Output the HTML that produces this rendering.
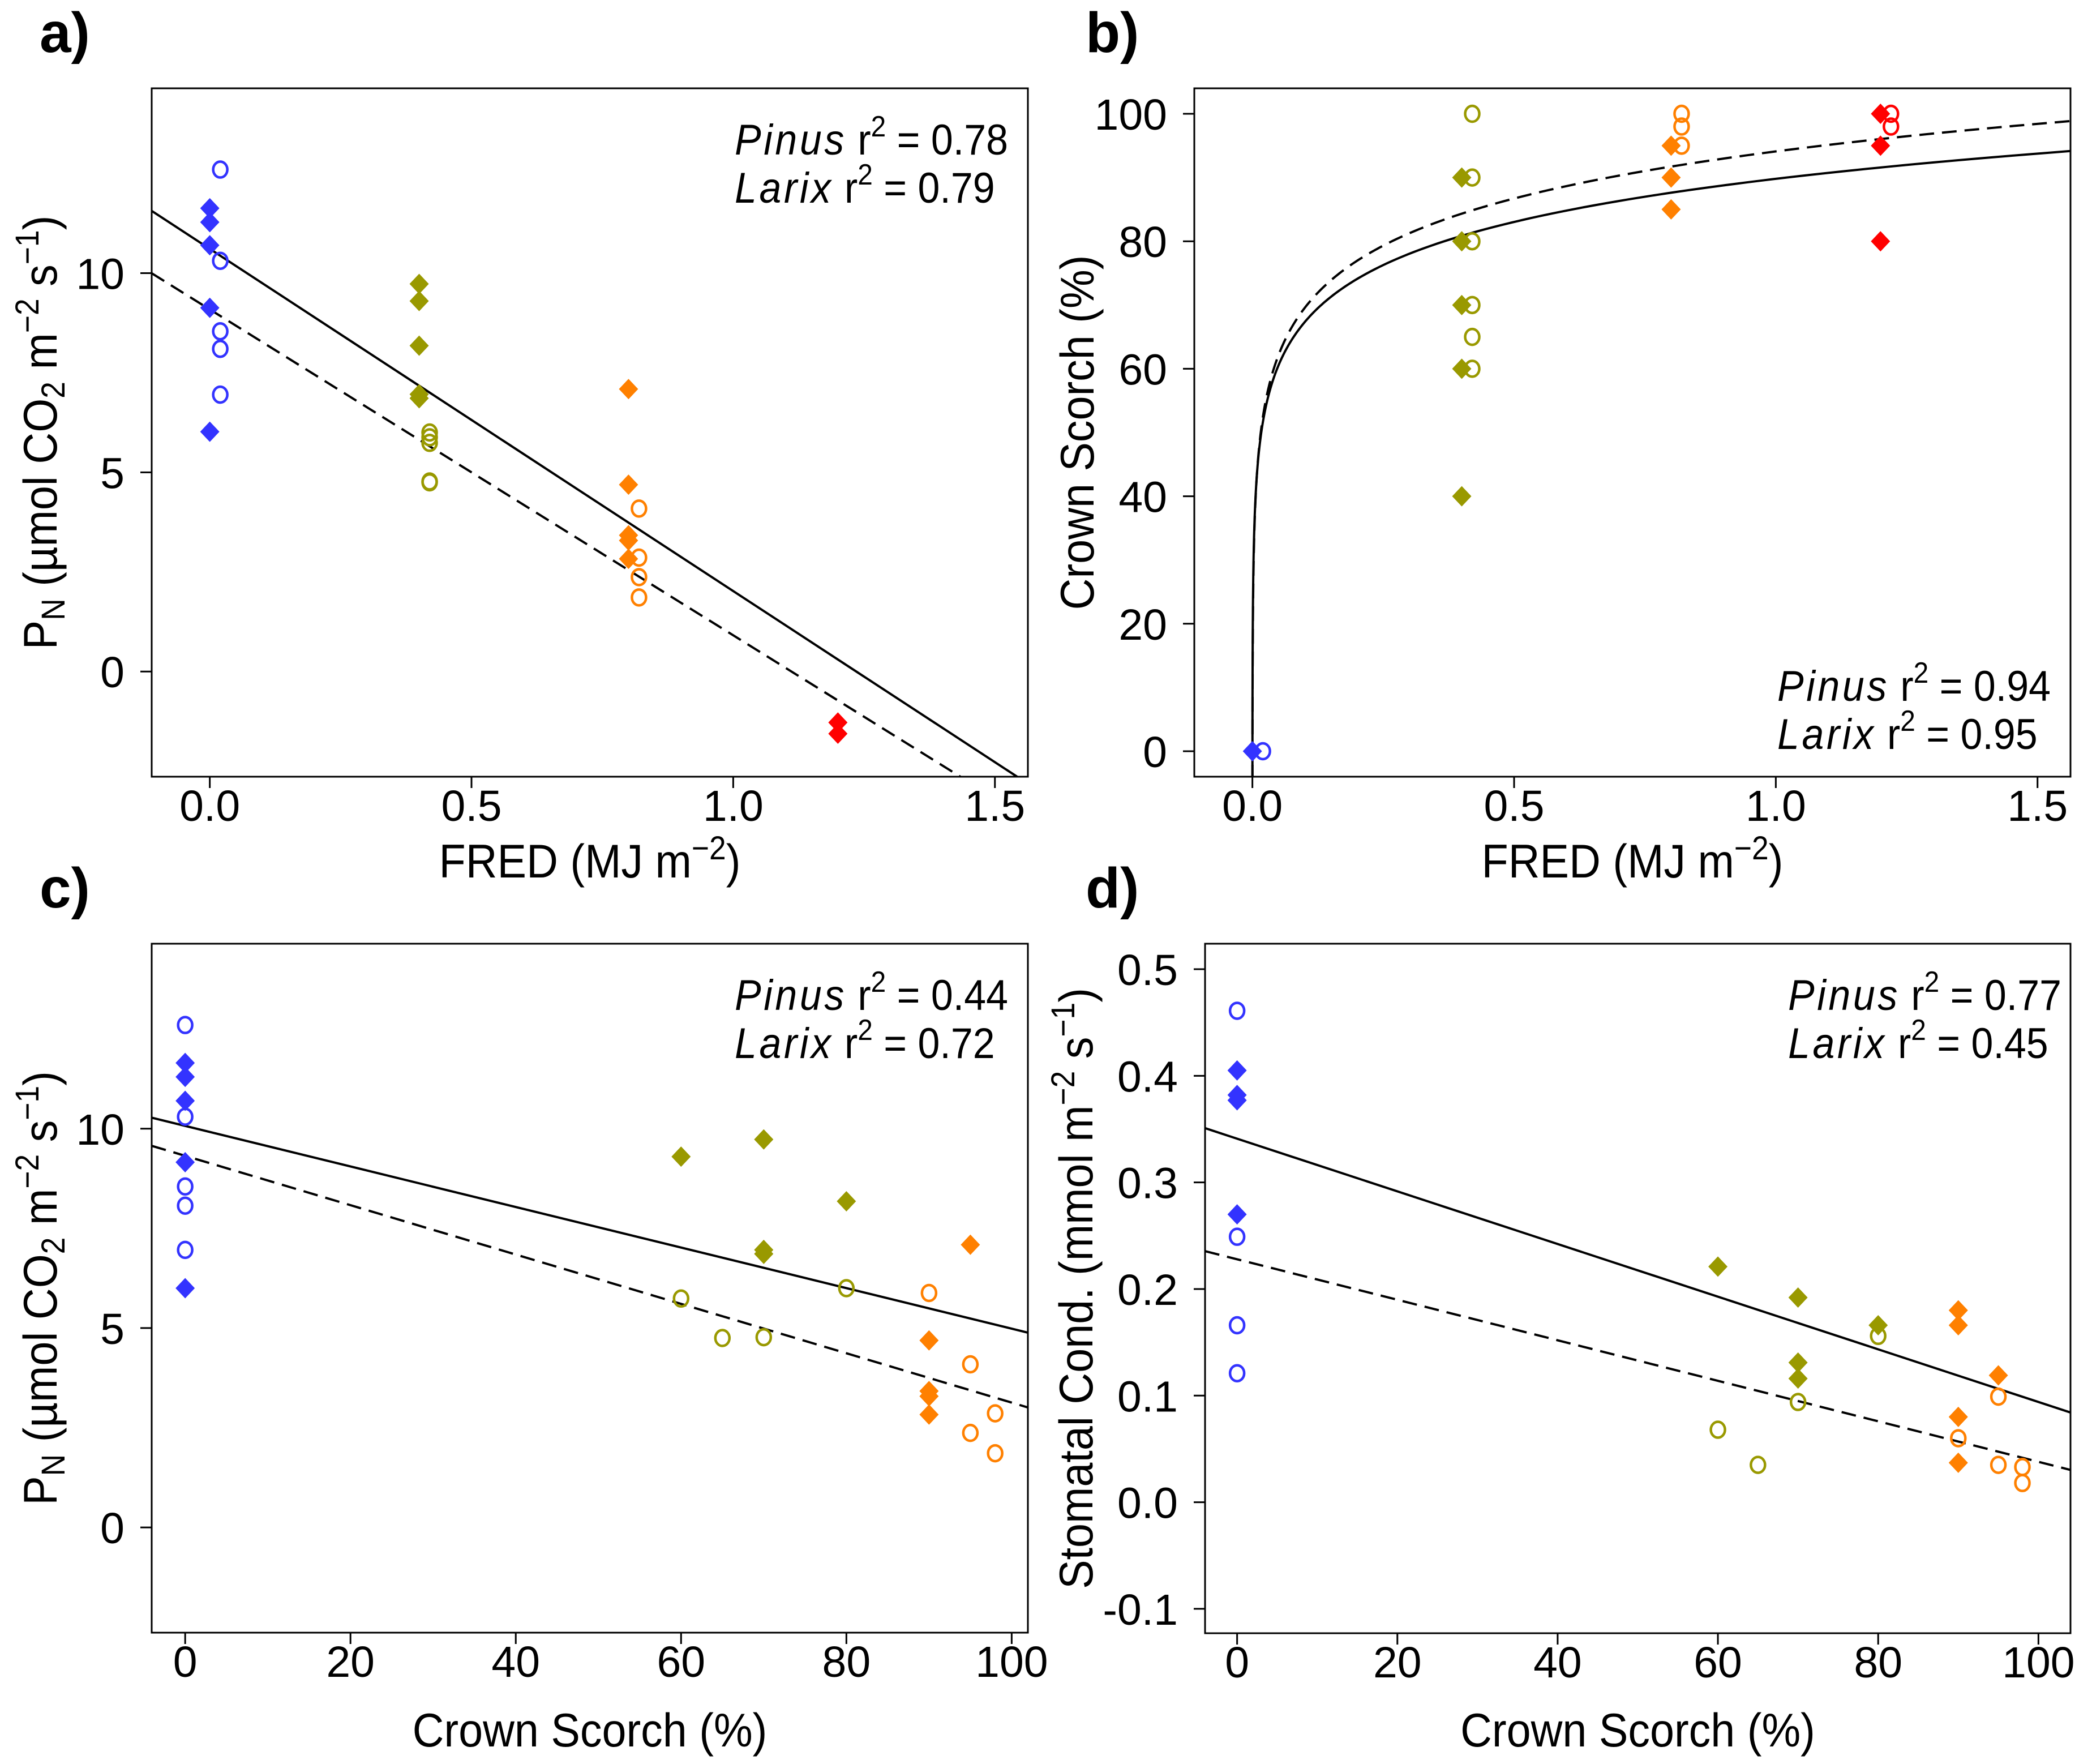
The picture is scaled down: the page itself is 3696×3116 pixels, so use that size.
<!DOCTYPE html>
<html><head><meta charset="utf-8">
<style>
html,body{margin:0;padding:0;background:#fff;}
svg{display:block;font-family:"Liberation Sans",Arial,sans-serif;}
</style></head>
<body>
<svg id="fig" width="3696" height="3116" viewBox="0 0 3696 3116" xmlns="http://www.w3.org/2000/svg">
<rect width="3696" height="3116" fill="#fff"/>
</svg>
<script>
// ---------- DATA ----------
const aPinusX = [0,0,0,0,0, 0.4,0.4,0.4,0.4,0.4, 0.8,0.8,0.8,0.8,0.8, 1.2,1.2];
const aPinusY = [11.63,11.28,10.7,9.13,6.02, 9.73,9.3,8.18,6.96,6.86, 7.09,4.69,3.42,3.29,2.83, -1.28,-1.56];
const aLarixX = [0.02,0.02,0.02,0.02,0.02, 0.42,0.42,0.42,0.42,0.42, 0.82,0.82,0.82,0.82];
const aLarixY = [12.6,10.31,8.54,8.1,6.95, 6.0,5.88,5.74,4.77,4.75, 4.09,2.86,2.37,1.86];
const aPinusFit = [10.61,-8.59];
const aLarixFit = [9.09,-8.18];
const aXTicks = [0,0.5,1.0,1.5];
const aXLabels = ["0.0","0.5","1.0","1.5"];
const aYTicks = [0,5,10];
const aYLabels = ["0","5","10"];
const bPinusX = [0, 0.4,0.4,0.4,0.4,0.4, 0.8,0.8,0.8, 1.2,1.2,1.2];
const bPinusY = [0, 90,80,70,60,40, 95,90,85, 100,95,80];
const bLarixX = [0.02, 0.42,0.42,0.42,0.42,0.42,0.42, 0.82,0.82,0.82, 1.22,1.22];
const bLarixY = [0, 100,90,80,70,65,60, 100,98,95, 100,98];
const bPinusFit = [89.8,9.76];
const bLarixFit = [94.1,10.66];
const bXTicks = [0,0.5,1.0,1.5];
const bXLabels = ["0.0","0.5","1.0","1.5"];
const bYTicks = [0,20,40,60,80,100];
const bYLabels = ["0","20","40","60","80","100"];
const cPinusX = [0,0,0,0,0, 60,70,70,70,80, 95,90,90,90,90];
const cPinusY = [11.65,11.3,10.7,9.16,6.0, 9.3,9.73,6.96,6.86,8.18, 7.09,4.69,3.42,3.29,2.83];
const cLarixX = [0,0,0,0,0, 60,65,70,80,90, 95,98,95,98];
const cLarixY = [12.6,10.3,8.55,8.07,6.96, 5.74,4.75,4.77,6.0,5.88, 4.09,2.86,2.37,1.86];
const cPinusFit = [10.07,-0.05085];
const cLarixFit = [9.32,-0.0619];
const cXTicks = [0,20,40,60,80,100];
const cXLabels = ["0","20","40","60","80","100"];
const cYTicks = [0,5,10];
const cYLabels = ["0","5","10"];
const dPinusX = [0,0,0,0, 60,70,70,70,80, 90,90,90,90,95];
const dPinusY = [0.405,0.382,0.377,0.27, 0.221,0.192,0.131,0.116,0.166, 0.18,0.166,0.08,0.037,0.119];
const dLarixX = [0,0,0,0, 60,65,70,80,90, 95,95,98,98];
const dLarixY = [0.461,0.249,0.166,0.121, 0.068,0.035,0.094,0.156,0.06, 0.099,0.035,0.033,0.018];
const dPinusFit = [0.341,-0.00247];
const dLarixFit = [0.2279,-0.0019];
const dXTicks = [0,20,40,60,80,100];
const dXLabels = ["0","20","40","60","80","100"];
const dYTicks = [-0.1,0,0.1,0.2,0.3,0.4,0.5];
const dYLabels = ["-0.1","0.0","0.1","0.2","0.3","0.4","0.5"];

// ---------- DRAWING ----------
const NS = "http://www.w3.org/2000/svg";
const svg = document.getElementById('fig');
const BLUE="#3333ff", OLIVE="#999900", ORANGE="#ff8000", RED="#ff0000";
const SQ = 0.92;

function mk(tag, attrs, parent){
  const e = document.createElementNS(NS, tag);
  for (const k in attrs) e.setAttribute(k, attrs[k]);
  (parent||svg).appendChild(e);
  return e;
}
function colorFor(x, isFred){
  if (isFred){ if (x<0.2) return BLUE; if (x<0.6) return OLIVE; if (x<1.0) return ORANGE; return RED; }
  if (x<30) return BLUE; if (x<85) return OLIVE; return ORANGE;
}

function panel(cfg){
  const g = mk('g', {});
  
  
  const sx = v => cfg.L + (v - cfg.x0) / (cfg.x1 - cfg.x0) * (cfg.R - cfg.L);
  const sy = v => cfg.B - (v - cfg.y0) / (cfg.y1 - cfg.y0) * (cfg.B - cfg.T);
  const clipId = cfg.name + '-clip';
  const cp = mk('clipPath', {id: clipId}, g);
  mk('rect', {x: cfg.L, y: cfg.T, width: cfg.R - cfg.L, height: cfg.B - cfg.T}, cp);

  const lines = mk('g', {'clip-path': 'url(#' + clipId + ')'}, g);
  [[cfg.pFit, null, 'pinus-fit-line'], [cfg.lFit, '26 14', 'larix-fit-line']].forEach(([f, dash, nm]) => {
    let pts = [];
    if (cfg.log){
      const xs = Math.exp((cfg.y0 - f[0]) / f[1]);
      const N = 400;
      for (let i = 0; i <= N; i++){
        const t = i / N;
        const x = xs * Math.pow(cfg.x1 / xs, t);
        pts.push(sx(x).toFixed(2) + ',' + sy(f[0] + f[1] * Math.log(x)).toFixed(2));
      }
      pts.unshift(sx(xs).toFixed(2) + ',' + (cfg.B + 5));
    } else {
      [cfg.x0, cfg.x1].forEach(x => pts.push(sx(x).toFixed(2) + ',' + sy(f[0] + f[1] * x).toFixed(2)));
    }
    const pl = mk('polyline', {points: pts.join(' '), fill: 'none', stroke: '#000', 'stroke-width': 4}, lines);
    if (dash) pl.setAttribute('stroke-dasharray', dash);
    
    
  });

  cfg.lx.forEach((x, i) => {
    const c = mk('ellipse', {cx: sx(x), cy: sy(cfg.ly[i]), rx: 12.5, ry: 14, fill: 'none', stroke: colorFor(x, cfg.fred), 'stroke-width': 4.5}, g);
    
    
  });
  cfg.px.forEach((x, i) => {
    const cx = sx(x), cy = sy(cfg.py[i]);
    const d = mk('polygon', {points: `${cx},${cy-18} ${cx+17},${cy} ${cx},${cy+18} ${cx-17},${cy}`, fill: colorFor(x, cfg.fred)}, g);
    
    
  });

  const fr = mk('rect', {x: cfg.L, y: cfg.T, width: cfg.R - cfg.L, height: cfg.B - cfg.T, fill: 'none', stroke: '#000', 'stroke-width': 3}, g);
  
  

  cfg.xt.forEach((v, i) => {
    const x = sx(v);
    mk('line', {x1: x, y1: cfg.B, x2: x, y2: cfg.B + 20, stroke: '#000', 'stroke-width': 3}, g);
    const t = mk('text', {x: x, y: cfg.B + 78, 'font-size': 77, 'text-anchor': 'middle'}, g);
    t.textContent = cfg.xl[i];
    
    
  });
  cfg.yt.forEach((v, i) => {
    const y = sy(v);
    mk('line', {x1: cfg.L - 20, y1: y, x2: cfg.L, y2: y, stroke: '#000', 'stroke-width': 3}, g);
    const t = mk('text', {x: cfg.L - 48, y: y + 28, 'font-size': 77, 'text-anchor': 'end'}, g);
    t.textContent = cfg.yl[i];
    
    
  });

  const xt = mk('text', {x: 0, y: 0, 'font-size': 84, 'text-anchor': 'middle', transform: `translate(${(cfg.L + cfg.R) / 2},${cfg.xTitleY}) scale(${SQ},1)`}, g);
  xt.innerHTML = cfg.xTitle;
  
  
  const yc = (cfg.T + cfg.B) / 2;
  const yt = mk('text', {x: 0, y: 0, 'font-size': 84, 'text-anchor': 'middle', transform: `translate(${cfg.yTitleX},${yc}) rotate(-90) scale(${SQ},1)`}, g);
  yt.innerHTML = cfg.yTitle;
  
  

  const pl = mk('text', {x: cfg.labX, y: cfg.T - 64, 'font-size': 100, 'font-weight': 'bold'}, g);
  pl.textContent = cfg.label;
  
  

  const ax = cfg.L + 1030;
  const ay1 = cfg.annBottom ? cfg.B - 134 : cfg.T + 117;
  const t1 = mk('text', {x: 0, y: 0, 'font-size': 76, transform: `translate(${ax},${ay1}) scale(${SQ},1)`}, g);
  t1.innerHTML = `<tspan font-style="italic" letter-spacing="5">Pinus</tspan> r<tspan font-size="52" dy="-32">2</tspan><tspan dy="32"> = ${cfg.r2[0]}</tspan>`;
  
  
  const t2 = mk('text', {x: 0, y: 0, 'font-size': 76, transform: `translate(${ax},${ay1 + 85}) scale(${SQ},1)`}, g);
  t2.innerHTML = `<tspan font-style="italic" letter-spacing="5">Larix</tspan> r<tspan font-size="52" dy="-32">2</tspan><tspan dy="32"> = ${cfg.r2[1]}</tspan>`;
  
  
}

const pnTitle = 'P<tspan font-size="58" dy="14">N</tspan><tspan dy="-14"> (µmol CO</tspan><tspan font-size="58" dy="14">2</tspan><tspan dy="-14"> m</tspan><tspan font-size="58" dy="-32">−2</tspan><tspan dy="32"> s</tspan><tspan font-size="58" dy="-32">−1</tspan><tspan dy="32">)</tspan>';
const fredTitle = 'FRED (MJ m<tspan font-size="58" dy="-32">−2</tspan><tspan dy="32">)</tspan>';

panel({name:'panel-a', label:'a)', labX:70, L:268, R:1816, T:156, B:1372, x0:-0.111, x1:1.563, y0:-2.64, y1:14.64, fred:true,
  px:aPinusX, py:aPinusY, lx:aLarixX, ly:aLarixY, pFit:aPinusFit, lFit:aLarixFit,
  xt:aXTicks, xl:aXLabels, yt:aYTicks, yl:aYLabels, xTitle:fredTitle, xTitleY:1550, yTitle:pnTitle, yTitleX:100, r2:['0.78','0.79']});
panel({name:'panel-b', label:'b)', labX:1918, L:2110, R:3658, T:156, B:1372, x0:-0.111, x1:1.563, y0:-4, y1:104, fred:true, log:true,
  px:bPinusX, py:bPinusY, lx:bLarixX, ly:bLarixY, pFit:bPinusFit, lFit:bLarixFit, annBottom:true,
  xt:bXTicks, xl:bXLabels, yt:bYTicks, yl:bYLabels, xTitle:fredTitle, xTitleY:1550, yTitle:'Crown Scorch (%)', yTitleX:1932, r2:['0.94','0.95']});
panel({name:'panel-c', label:'c)', labX:70, L:268, R:1816, T:1667, B:2884, x0:-4.05, x1:101.96, y0:-2.64, y1:14.64, fred:false,
  px:cPinusX, py:cPinusY, lx:cLarixX, ly:cLarixY, pFit:cPinusFit, lFit:cLarixFit,
  xt:cXTicks, xl:cXLabels, yt:cYTicks, yl:cYLabels, xTitle:'Crown Scorch (%)', xTitleY:3085, yTitle:pnTitle, yTitleX:100, r2:['0.44','0.72']});
panel({name:'panel-d', label:'d)', labX:1918, L:2129, R:3658, T:1667, B:2885, x0:-4, x1:104, y0:-0.1229, y1:0.5239, fred:false,
  px:dPinusX, py:dPinusY, lx:dLarixX, ly:dLarixY, pFit:dPinusFit, lFit:dLarixFit,
  xt:dXTicks, xl:dXLabels, yt:dYTicks, yl:dYLabels, xTitle:'Crown Scorch (%)', xTitleY:3085,
  yTitle:'Stomatal Cond. (mmol m<tspan font-size="58" dy="-32">−2</tspan><tspan dy="32"> s</tspan><tspan font-size="58" dy="-32">−1</tspan><tspan dy="32">)</tspan>', yTitleX:1930, r2:['0.77','0.45']});
</script>
</body></html>
